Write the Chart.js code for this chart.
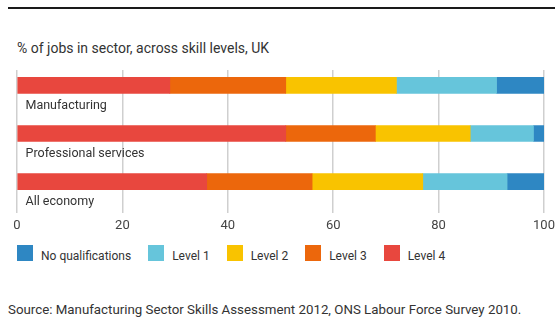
<!DOCTYPE html>
<html>
<head>
<meta charset="utf-8">
<script src="https://cdn.jsdelivr.net/npm/chart.js@4.4.1/dist/chart.umd.min.js"></script>
<style>
  html, body { margin: 0; padding: 0; background: #fff; }
  body { width: 555px; height: 322px; position: relative; overflow: hidden; font-family: Roboto, sans-serif; color: #333; }
  .rule { position: absolute; left: 8px; right: 0; top: 7px; height: 2px; background: #1a1a1a; }
  .title { position: absolute; left: 17px; top: 39px; font-size: 14px; line-height: 18px; }
  .wrap { position: absolute; left: 0; top: 60px; width: 555px; height: 185px; }
  #legend { position: absolute; left: 17px; top: 245px; display: flex; gap: 17px; font-size: 12px; }
  #legend .item { display: flex; align-items: center; }
  #legend .box { width: 16px; height: 16px; margin-right: 8px; }
  #legend span { position: relative; top: 3px; }
  .source { position: absolute; left: 8px; top: 302px; font-size: 13.3px; line-height: 16px; }
</style>
</head>
<body>
<div class="rule"></div>
<div class="title">% of jobs in sector, across skill levels, UK</div>
<div class="wrap"><canvas id="skillsChart"></canvas></div>
<div id="legend"></div>
<div class="source">Source: Manufacturing Sector Skills Assessment 2012, ONS Labour Force Survey 2010.</div>

<script>
// sectors top to bottom, values in % of jobs
const sectors = ['Manufacturing', 'Professional services', 'All economy'];
const level4 = [29, 51, 36];
const level3 = [22, 17, 20];
const level2 = [21, 18, 21];
const level1 = [19, 12, 16];
const noQuals = [9, 2, 7];
const xTicks = [0, 20, 40, 60, 80, 100];

// stacked left to right: Level 4 first, no qualifications last
const series = [
    { label: 'Level 4', values: level4, color: '#E8473E' },
    { label: 'Level 3', values: level3, color: '#EC670C' },
    { label: 'Level 2', values: level2, color: '#F9C300' },
    { label: 'Level 1', values: level1, color: '#66C5DB' },
    { label: 'No qualifications', values: noQuals, color: '#2E87C3' }
];

// sector names sit under each bar, inside the plot
const sectorLabels = {
    id: 'sectorLabels',
    afterDatasetsDraw(chart) {
        const { ctx, chartArea, scales } = chart;
        ctx.save();
        ctx.font = '12.5px Roboto';
        ctx.fillStyle = '#333';
        ctx.textBaseline = 'middle';
        ctx.textAlign = 'left';
        sectors.forEach((name, i) => {
            ctx.fillText(name, chartArea.left + 8.5, scales.y.getPixelForValue(i) + 20.5);
        });
        ctx.restore();
    }
};

const ctx = document.getElementById('skillsChart').getContext('2d');

const chart = new Chart(ctx, {
    type: 'bar',
    data: {
        datasets: series.map(s => ({
            label: s.label,
            data: s.values.map((v, i) => ({ x: v, y: i })),
            backgroundColor: s.color,
            borderWidth: 0,
            barThickness: 16
        }))
    },
    options: {
        indexAxis: 'y',
        responsive: true,
        maintainAspectRatio: false,
        animation: false,
        layout: { padding: { left: 17, right: 11, top: 10, bottom: 6 } },
        plugins: {
            legend: { display: false },
            tooltip: { enabled: false }
        },
        scales: {
            x: {
                stacked: true,
                min: 0,
                max: 100,
                afterBuildTicks: scale => { scale.ticks = xTicks.map(v => ({ value: v })); },
                // let "100" hang into the right margin instead of shrinking the plot
                afterFit: scale => { scale.paddingLeft = 0; scale.paddingRight = 0; },
                grid: { color: '#cfcfcf', lineWidth: 1.5, drawTicks: false },
                border: { display: false },
                ticks: { color: '#444', padding: 5, font: { family: 'Roboto', size: 13 } }
            },
            y: {
                type: 'linear',
                display: false,
                offset: false,
                stacked: true,
                reverse: true,
                min: -0.32,
                max: 2.66
            }
        }
    },
    plugins: [sectorLabels]
});

// legend in reading order: no qualifications first
const legendEl = document.getElementById('legend');
chart.data.datasets.slice().reverse().forEach(ds => {
    const item = document.createElement('div');
    item.className = 'item';
    const box = document.createElement('div');
    box.className = 'box';
    box.style.background = ds.backgroundColor;
    const text = document.createElement('span');
    text.textContent = ds.label;
    item.appendChild(box);
    item.appendChild(text);
    legendEl.appendChild(item);
});
</script>
</body>
</html>
